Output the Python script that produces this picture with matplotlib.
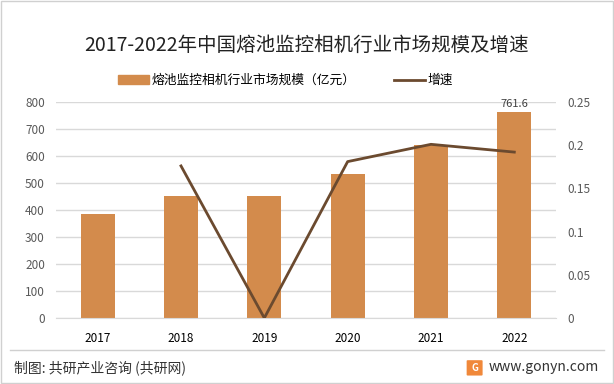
import numpy as np
import matplotlib.pyplot as plt
from matplotlib.patches import Rectangle, FancyBboxPatch
from matplotlib.lines import Line2D

plt.rcParams['font.family'] = ['Noto Sans CJK SC', 'DejaVu Sans']

years = ["2017", "2018", "2019", "2020", "2021", "2022"]
market_size = [385, 452, 452, 533, 641, 761.6]
growth = [None, 0.176, 0.0, 0.181, 0.201, 0.192]

title = "2017-2022年中国熔池监控相机行业市场规模及增速"
bar_label = "熔池监控相机行业市场规模（亿元）"
line_label = "增速"
source = "制图: 共研产业咨询 (共研网)"
site = "www.gonyn.com"

bar_color = "#D38B4C"
line_color = "#6B4A2F"
grid_color = "#D9D9D9"
tick_color = "#595959"

fig = plt.figure(figsize=(6.14, 3.84), dpi=100)
ax1 = fig.add_axes((0.0912, 0.1719, 0.8143, 0.5625))
ax2 = ax1.twinx()

x = np.arange(len(years))
ax1.bar(x, market_size, width=0.41, color=bar_color, zorder=2)
ax1.text(x[-1], market_size[-1] + 12, f"{market_size[-1]}", ha="center", va="bottom",
         fontsize=8, color="#404040")

gx = [i for i, g in zip(x, growth) if g is not None]
gy = [g for g in growth if g is not None]
ax2.plot(gx, gy, color=line_color, linewidth=2, zorder=3)

ax1.set_xlim(-0.5, len(years) - 0.5)
ax1.set_ylim(0, 800)
ax1.set_yticks(range(0, 801, 100))
ax2.set_ylim(0, 0.25)
ax2.set_yticks([0, 0.05, 0.1, 0.15, 0.2, 0.25])
ax2.set_yticklabels(["0", "0.05", "0.1", "0.15", "0.2", "0.25"])
ax1.set_xticks(x)
ax1.set_xticklabels(years)

ax1.yaxis.grid(True, color=grid_color, linewidth=1, zorder=0)
ax1.set_axisbelow(True)
for ax in (ax1, ax2):
    for s in ax.spines.values():
        s.set_visible(False)
    ax.tick_params(length=0)
ax1.spines["bottom"].set_visible(True)
ax1.spines["bottom"].set_color(grid_color)
ax1.tick_params(axis="y", labelsize=8.5, labelcolor=tick_color, pad=8)
ax2.tick_params(axis="y", labelsize=8.5, labelcolor=tick_color, pad=8)
ax1.tick_params(axis="x", labelsize=8.5, labelcolor="black", pad=10)

fig.text(0.5, 0.882, title, ha="center", va="center", fontsize=14, color="#222222")

handles = [Rectangle((0, 0), 1, 1, color=bar_color),
           Line2D([0], [0], color=line_color, linewidth=2)]
fig.legend(handles, [bar_label, line_label], loc="center", bbox_to_anchor=(0.465, 0.79),
           ncol=2, frameon=False, fontsize=9.2, handlelength=2.4, handletextpad=0.2,
           columnspacing=3.0)

# footer
fig.add_artist(Line2D([0.016, 0.984], [0.088, 0.088], color="#D0D0D0", linewidth=1))
fig.text(0.022, 0.042, source, ha="left", va="center", fontsize=10, color="#333333")
fig.add_artist(FancyBboxPatch((0.762, 0.024), 0.022, 0.036, boxstyle="round,pad=0.002",
                              facecolor="#F0883A", edgecolor="none", transform=fig.transFigure))
fig.text(0.773, 0.042, "G", ha="center", va="center", fontsize=7, color="white",
         fontweight="bold")
fig.text(0.796, 0.044, site, ha="left", va="center", fontsize=10, color="#333333")

# outer border
fig.add_artist(Rectangle((0.002, 0.003), 0.996, 0.994, fill=False, edgecolor="#D0D0D0",
                         linewidth=1, transform=fig.transFigure))

plt.savefig("out.png", dpi=100)
plt.close()
